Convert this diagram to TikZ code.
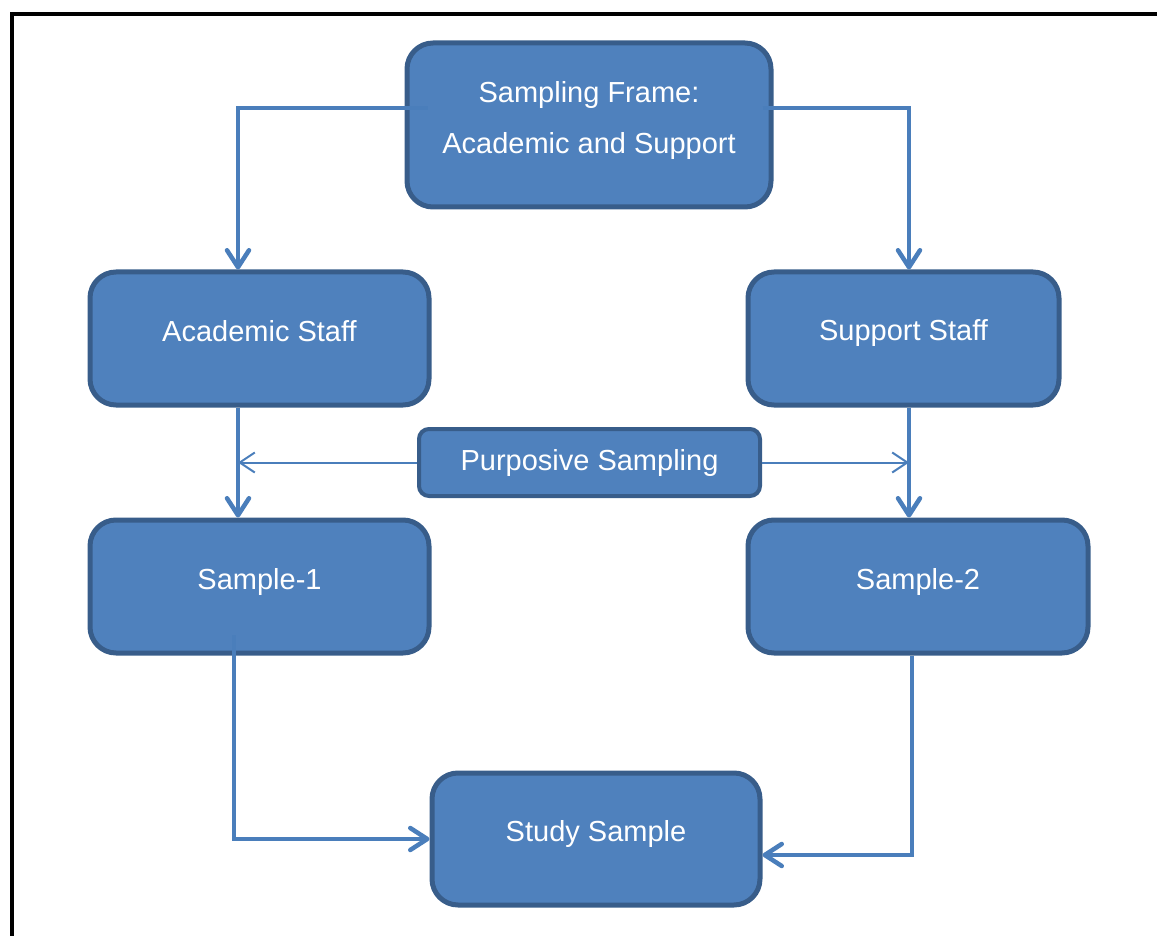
\documentclass[tikz,border=0pt]{standalone}
\usepackage{fontspec}
\setmainfont{Liberation Sans}
\usetikzlibrary{arrows.meta}
\definecolor{boxfill}{HTML}{4F81BD}
\definecolor{boxline}{HTML}{385D8A}
\definecolor{wire}{HTML}{4A7EBB}

\begin{document}
\begin{tikzpicture}[x=1pt,y=-1pt,
  box/.style={draw=boxline, line width=5pt, fill=boxfill, rounded corners=26pt,
    text=white, font=\fontsize{29}{51}\selectfont, align=center,
    inner sep=0pt, text depth=16pt},
  tagbox/.style={box, line width=4pt, rounded corners=10pt, text depth=6pt},
  link/.style={draw=wire, line width=4.5pt,
    -{Straight Barb[length=17pt,width=22pt,round]}},
  thinlink/.style={draw=wire, line width=2pt,
    -{Straight Barb[length=15pt,width=20pt]}}]

\useasboundingbox (0,0) rectangle (1157,936);

% page frame
\draw[line width=4pt] (12,936) -- (12,14) -- (1157,14);

% boxes
\node[box, minimum width=364pt, minimum height=164pt] (top) at (589,125)
  {Sampling Frame:\\Academic and Support};
\node[box, minimum width=339pt, minimum height=133pt] (acad) at (259.5,338.5)
  {Academic Staff};
\node[box, minimum width=311pt, minimum height=133pt] (supp) at (903.5,338.5)
  {Support Staff};
\node[tagbox, minimum width=341pt, minimum height=67pt] (purp) at (589.5,462.5)
  {Purposive Sampling};
\node[box, minimum width=339pt, minimum height=133pt] (s1) at (259.5,586.5)
  {Sample-1};
\node[box, minimum width=340pt, minimum height=133pt] (s2) at (918,586.5)
  {Sample-2};
\node[box, minimum width=328pt, minimum height=132pt] (study) at (596,839)
  {Study Sample};

% columns of the vertical connectors
\coordinate (colL) at (238,0);
\coordinate (colR) at (909,0);

% connectors
\draw[link] ([xshift=23pt,yshift=17pt]top.west) -| (acad.north -| colL);
\draw[link] ([xshift=-11pt,yshift=17pt]top.east) -| (supp.north -| colR);
\draw[link] (acad.south -| colL) -- (s1.north -| colL);
\draw[link] (supp.south -| colR) -- (s2.north -| colR);
\draw[thinlink] (purp.west) -- (purp.west -| colL);
\draw[thinlink] (purp.east) -- (purp.east -| colR);
\draw[link] ([xshift=-25.5pt,yshift=-48.5pt]s1.center) |- (study.west);
\draw[link] ([xshift=-6pt]s2.south) |- ([yshift=-16pt]study.east);
\end{tikzpicture}
\end{document}
